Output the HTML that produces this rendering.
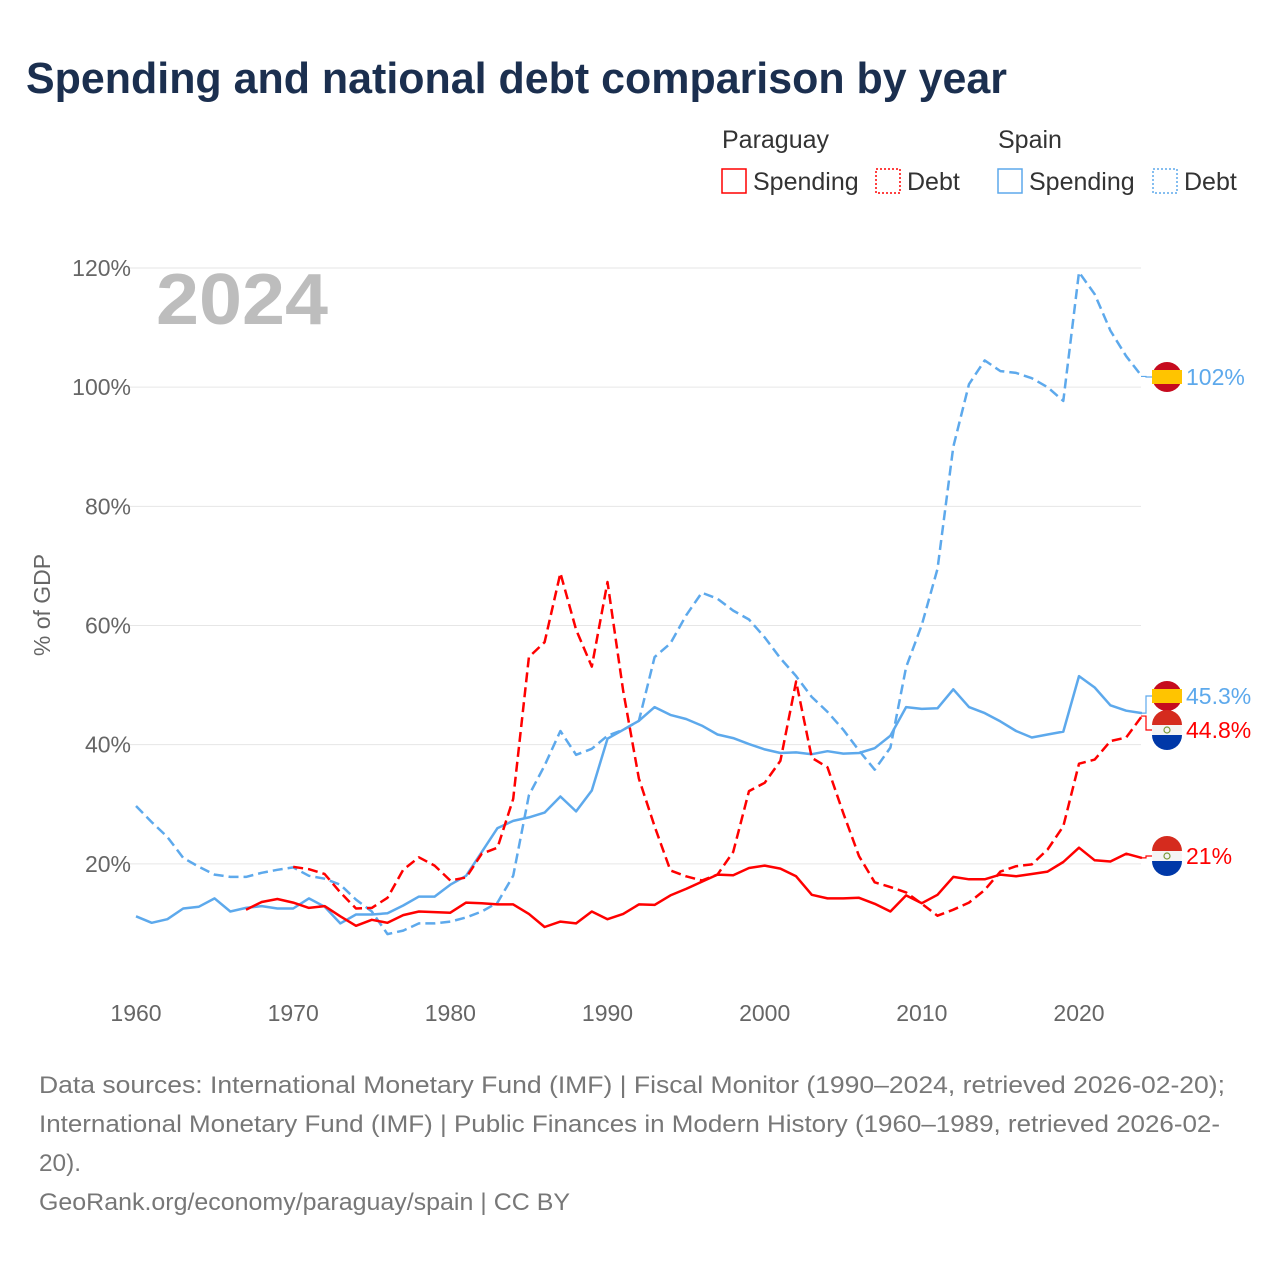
<!DOCTYPE html>
<html><head><meta charset="utf-8"><style>
body{margin:0;background:#fff;font-family:"Liberation Sans",sans-serif;}
#wrap{position:relative;width:1280px;height:1280px;overflow:hidden;}
</style></head><body><div id="wrap">
<svg id="c" width="1280" height="1280" xmlns="http://www.w3.org/2000/svg"></svg>
</div>
<script>
const years=[];for(let y=1960;y<=2024;y++)years.push(y);
const yTicks=[20,40,60,80,100,120];
const xTicks=[1960,1970,1980,1990,2000,2010,2020];
const spainDebt=[29.7,27,24.5,21,19.5,18.2,17.8,17.8,18.5,19,19.4,18,17.5,16.5,14,12,8.2,8.8,10,10,10.3,11,12,13.5,18,31.5,36.5,42.3,38.3,39.3,41.5,42.5,44,54.7,57,61.7,65.5,64.5,62.5,61,58,54.5,51.5,48,45.5,42.5,39,35.8,39.5,53,60.1,69.5,90,100.5,104.5,102.7,102.4,101.5,100,97.7,119.3,115.6,109.5,105.2,101.8];
const spainSpend=[11.2,10.1,10.7,12.5,12.8,14.2,12,12.6,12.9,12.5,12.5,14.2,12.8,10,11.5,11.5,11.7,13,14.5,14.5,16.5,18,22,26,27.2,27.8,28.6,31.3,28.8,32.3,41,42.5,44,46.3,45,44.3,43.2,41.7,41.1,40.1,39.2,38.6,38.7,38.4,38.9,38.5,38.6,39.4,41.5,46.3,46,46.1,49.3,46.3,45.3,43.9,42.3,41.2,41.7,42.2,51.5,49.6,46.6,45.7,45.3];
const pySpendStart=1967;
const pySpend=[12.3,13.6,14.1,13.5,12.6,12.9,11.2,9.6,10.6,10.1,11.4,12,11.9,11.8,13.5,13.4,13.2,13.2,11.6,9.4,10.3,10,12,10.7,11.6,13.2,13.1,14.7,15.8,17,18.2,18.1,19.3,19.7,19.2,17.9,14.8,14.2,14.2,14.3,13.3,12,14.7,13.4,14.8,17.8,17.4,17.4,18.2,17.9,18.3,18.7,20.3,22.7,20.6,20.4,21.7,21];
const pyDebtStart=1970;
const pyDebt=[19.5,19.1,18.3,15.2,12.5,12.6,14.3,19,21.1,19.7,17.2,17.7,21.7,22.7,30.9,54.7,57.2,68.8,59.3,53.1,67.3,49,34.3,26.3,18.9,17.9,17.2,18.2,22,32.2,33.6,37.3,50.6,37.8,36.2,28.5,21.3,16.9,16.1,15.2,13.3,11.3,12.3,13.5,15.6,18.7,19.6,19.9,22.4,26.3,36.8,37.5,40.6,41.2,44.8];
const NS='http://www.w3.org/2000/svg';
const svg=document.getElementById('c');
const X=y=>136+(y-1960)*(1079-136)/60;
const Y=v=>983-v*(983-268)/120;
function el(t,a,p){const e=document.createElementNS(NS,t);for(const k in a)e.setAttribute(k,a[k]);(p||svg).appendChild(e);return e;}
function txt(s,a){const e=el('text',a);e.textContent=s;return e;}
const RED='#ff0000',BLUE='#5da9ec',GREY='#666';
let t=txt('Spending and national debt comparison by year',{x:26,y:93,'font-size':44,'font-weight':'bold',fill:'#1b2f4f',textLength:981,lengthAdjust:'spacingAndGlyphs'});

function legendItem(x,label,col,dash,name){const g=el('g',{});
el('rect',{x:x,y:169,width:24,height:24,fill:'none',stroke:col,'stroke-width':1.5,'stroke-dasharray':dash?'2,2':'none'},g);
const tt=el('text',{x:x+31,y:190,'font-size':25,fill:'#333'},g);tt.textContent=label;}
t=txt('Paraguay',{x:722,y:148,'font-size':25,fill:'#333'});
t=txt('Spain',{x:998,y:148,'font-size':25,fill:'#333'});
legendItem(722,'Spending',RED,false,'legend-paraguay-spending');
legendItem(876,'Debt',RED,true,'legend-paraguay-debt');
legendItem(998,'Spending',BLUE,false,'legend-spain-spending');
legendItem(1153,'Debt',BLUE,true,'legend-spain-debt');
yTicks.forEach(v=>{const l=el('line',{x1:130,x2:1141,y1:Y(v),y2:Y(v),stroke:'#e6e6e6','stroke-width':1});

const tt=txt(v+'%',{x:131,y:Y(v)+8,'font-size':23,fill:GREY,'text-anchor':'end'});
});
xTicks.forEach(y=>{const tt=txt(String(y),{x:X(y),y:1021,'font-size':23,fill:GREY,'text-anchor':'middle'});
});
t=txt('% of GDP',{x:0,y:0,'font-size':23,fill:GREY,'text-anchor':'middle',transform:'translate(50,605) rotate(-90)'});

t=txt('2024',{x:156,y:324,'font-size':72,'font-weight':'bold',fill:'#bdbdbd',textLength:172,lengthAdjust:'spacingAndGlyphs'});

function series(vals,start,col,dash,name){const pts=vals.map((v,i)=>X(start+i).toFixed(1)+','+Y(v).toFixed(1)).join(' ');
const p=el('polyline',{points:pts,fill:'none',stroke:col,'stroke-width':2.5,'stroke-linejoin':'round','stroke-dasharray':dash?'10,5':'none'});
}
series(spainDebt,1960,BLUE,true,'line-spain-debt');
series(spainSpend,1960,BLUE,false,'line-spain-spending');
series(pyDebt,pyDebtStart,RED,true,'line-paraguay-debt');
series(pySpend,pySpendStart,RED,false,'line-paraguay-spending');
function flag(cy,country,name){const g=el('g',{});
const cx=1167;
if(country==='es'){el('circle',{cx:cx,cy:cy,r:15,fill:'#c60b1e'},g);el('rect',{x:cx-15,y:cy-7,width:30,height:14,fill:'#ffc400'},g);}
else{el('circle',{cx:cx,cy:cy,r:15,fill:'#f4f4f4'},g);el('path',{d:`M${cx-15},${cy-5} A15,15 0 0 1 ${cx+15},${cy-5}Z`,fill:'#d52b1e'},g);
el('path',{d:`M${cx-15},${cy+5} A15,15 0 0 0 ${cx+15},${cy+5}Z`,fill:'#0038a8'},g);el('circle',{cx:cx,cy:cy,r:3,fill:'none',stroke:'#7a9a3a','stroke-width':1.2},g);}}
function endLabel(v,ly,col,country,label,name){const y0=Y(v);
const c=el('path',{d:`M1141,${y0} H1146 V${ly} H1152`,fill:'none',stroke:col,'stroke-width':1.2});
flag(ly,country,name+'-flag');
const tt=txt(label,{x:1186,y:ly+8,'font-size':23,fill:col});}
endLabel(spainDebt[spainDebt.length-1],377,BLUE,'es','102%','end-spain-debt');
endLabel(spainSpend[spainSpend.length-1],696,BLUE,'es','45.3%','end-spain-spending');
endLabel(pyDebt[pyDebt.length-1],730,RED,'py','44.8%','end-paraguay-debt');
endLabel(pySpend[pySpend.length-1],856,RED,'py','21%','end-paraguay-spending');
const foot=['Data sources: International Monetary Fund (IMF) | Fiscal Monitor (1990–2024, retrieved 2026-02-20);','International Monetary Fund (IMF) | Public Finances in Modern History (1960–1989, retrieved 2026-02-','20).','GeoRank.org/economy/paraguay/spain | CC BY'];
const footW=[1186,1181,42,531];
foot.forEach((s,i)=>{const tt=txt(s,{x:39,y:1093+i*39,'font-size':24,fill:'#777',textLength:footW[i],lengthAdjust:'spacingAndGlyphs'});});
</script></body></html>
